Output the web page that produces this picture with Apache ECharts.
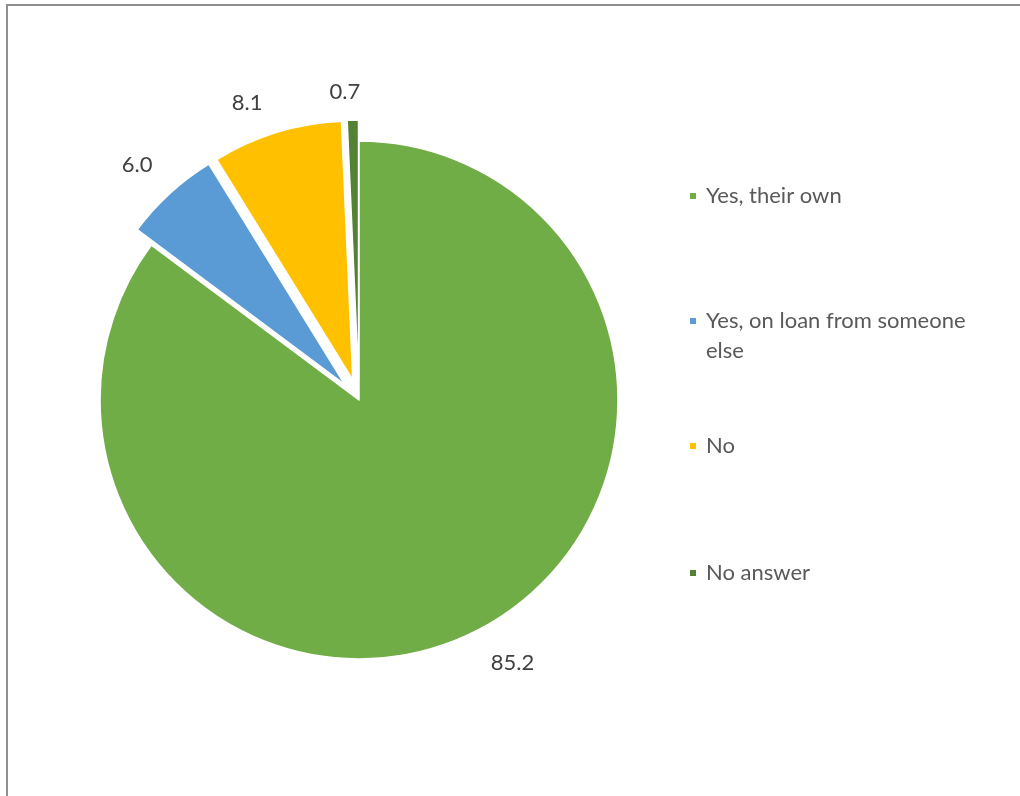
<!DOCTYPE html>
<html><head><meta charset="utf-8">
<script src="https://cdn.jsdelivr.net/npm/echarts@6/dist/echarts.min.js"></script>
<style>html,body{margin:0;padding:0;background:#fff}#c{width:1020px;height:796px}</style>
</head><body><div id="c"></div>
<script>
const categories = ['Yes, their own', 'Yes, on loan from someone else', 'No', 'No answer'];
const values = [85.2, 6.0, 8.1, 0.7];
const colors = ['#70AD47', '#5B9BD5', '#FFC000', '#548235'];
const exploded = [false, true, true, true];

// style tuning for label placement (per slice)
const labelLineLen = [35, 39, 31, 28];
const labelDistance = [0, -9, 5, -8];
// legend vertical centres of first text line
const legendCentres = [196, 321, 446, 573];

const FONT = 'Lato';
const chart = echarts.init(document.getElementById('c'), null, {renderer: 'canvas'});

const data = categories.map((name, i) => ({
  name: name,
  value: values[i],
  selected: exploded[i],
  itemStyle: {color: colors[i]},
  label: {distanceToLabelLine: labelDistance[i]},
  labelLine: {length: labelLineLen[i]}
}));

const legends = categories.map((name, i) => {
  const twoLine = name.length > 20;
  return {
    data: [name],
    orient: 'vertical',
    left: 688,
    top: twoLine ? legendCentres[i] - 45 : legendCentres[i] - 15,
    padding: 0,
    icon: 'rect',
    itemWidth: 8,
    itemHeight: 8,
    selectedMode: false,
    // blank first line keeps the icon beside the first text line
    formatter: n => n === 'Yes, on loan from someone else' ? ' \nYes, on loan from someone\nelse' : n,
    textStyle: {
      fontFamily: FONT,
      fontSize: 22,
      color: '#595959',
      lineHeight: 30,
      padding: [0, 0, 0, 4]
    }
  };
});

chart.setOption({
  animation: false,
  backgroundColor: '#fff',
  graphic: [{
    type: 'rect',
    shape: {x: 7, y: 5, width: 1100, height: 900},
    style: {fill: 'none', stroke: '#8f8f8f', lineWidth: 2},
    silent: true
  }],
  legend: legends,
  series: [{
    type: 'pie',
    center: [359, 400],
    radius: 259,
    startAngle: 90,
    clockwise: true,
    selectedMode: 'multiple',
    selectedOffset: 21,
    avoidLabelOverlap: false,
    emphasis: {disabled: true},
    itemStyle: {borderColor: '#ffffff', borderWidth: 1.5},
    label: {
      show: true,
      position: 'outside',
      fontFamily: FONT,
      fontSize: 22,
      color: '#404040',
      formatter: p => p.value.toFixed(1)
    },
    labelLine: {show: false, length2: 0},
    data: data
  }]
});
</script>
</body></html>
